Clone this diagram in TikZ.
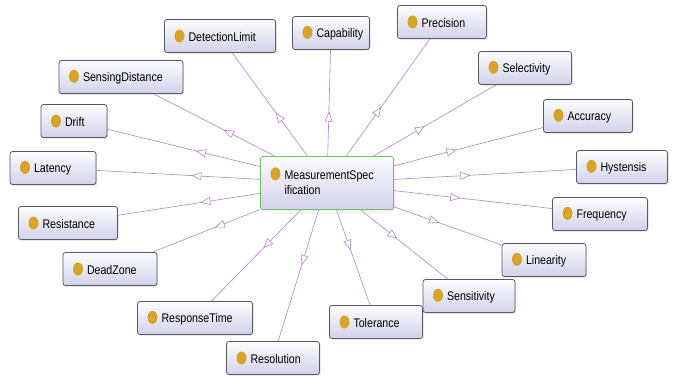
\documentclass[tikz,border=0pt]{standalone}
\usepackage{fontspec}
\setmainfont{Liberation Sans}[FakeStretch=0.85]
\usetikzlibrary{arrows.meta,decorations.markings,shadows}

\definecolor{edgecol}{RGB}{180,130,200}
\definecolor{boxtop}{RGB}{252,252,255}
\definecolor{boxbot}{RGB}{210,210,234}
\definecolor{boxline}{RGB}{88,88,100}
\definecolor{dotcol}{RGB}{214,164,40}
\definecolor{rootline}{RGB}{112,196,96}

% golden class bullet followed by the class name
\newcommand\clsdot{\tikz[baseline=-0.8ex]\fill[dotcol] (0,0) ellipse (5pt and 6.5pt);}
\newcommand\clslabel[2]{\makebox[#1pt][l]{\clsdot\hspace{4pt}#2}}

\tikzset{
  cls/.style={draw=boxline, line width=0.8pt, rounded corners=2.5pt,
    top color=boxtop, bottom color=boxbot,
    drop shadow={shadow xshift=1.2pt, shadow yshift=-1.2pt, opacity=0.25},
    minimum height=33pt, inner xsep=10pt, inner ysep=2pt,
    font=\fontsize{12.5}{15}\selectfont},
  rootcls/.style={cls, draw=rootline, minimum height=53pt},
  isa/.style={draw=edgecol, line width=0.6pt, postaction={decorate},
    decoration={markings, mark=at position 0.42 with
      {\arrow[edgecol, line width=0.6pt]{Triangle[fill=white, length=10pt, width=8pt]}}}}
}

\begin{document}
\begin{tikzpicture}[x=1pt, y=-1pt]
\useasboundingbox (0,0) rectangle (676,376);

% central class
\node[rootcls] (ms) at (327,183) {\makebox[113pt][l]{%
  \begin{tabular}{@{}l@{\hspace{4pt}}l@{}}
    \clsdot & MeasurementSpec\\
            & ification
  \end{tabular}}};

% surrounding classes
\node[cls] (dl)    at (220,36)  {\clslabel{91}{DetectionLimit}};
\node[cls] (cap)   at (331,33)  {\clslabel{57}{Capability}};
\node[cls] (prec)  at (442,22)  {\clslabel{69}{Precision}};
\node[cls] (sd)    at (121,77)  {\clslabel{104}{SensingDistance}};
\node[cls] (sel)   at (525,68)  {\clslabel{73}{Selectivity}};
\node[cls] (drift) at (74,121)  {\clslabel{46}{Drift}};
\node[cls] (acc)   at (588,116) {\clslabel{69}{Accuracy}};
\node[cls] (lat)   at (53,168)  {\clslabel{66}{Latency}};
\node[cls] (hys)   at (622,167) {\clslabel{71}{Hystensis}};
\node[cls] (res)   at (68,223)  {\clslabel{79}{Resistance}};
\node[cls] (freq)  at (600,214) {\clslabel{75}{Frequency}};
\node[cls] (dz)    at (110,269) {\clslabel{74}{DeadZone}};
\node[cls] (lin)   at (544,260) {\clslabel{64}{Linearity}};
\node[cls] (sens)  at (469,296) {\clslabel{72}{Sensitivity}};
\node[cls] (rt)    at (195,318) {\clslabel{95}{ResponseTime}};
\node[cls] (tol)   at (376,322) {\clslabel{73}{Tolerance}};
\node[cls] (resol) at (273,358) {\clslabel{73}{Resolution}};

% subclass links
\foreach \n in {dl,cap,prec,sd,sel,drift,acc,lat,hys,res,freq,dz,lin,sens,rt,tol,resol}
  \draw[isa] (ms) -- (\n);
\end{tikzpicture}
\end{document}
